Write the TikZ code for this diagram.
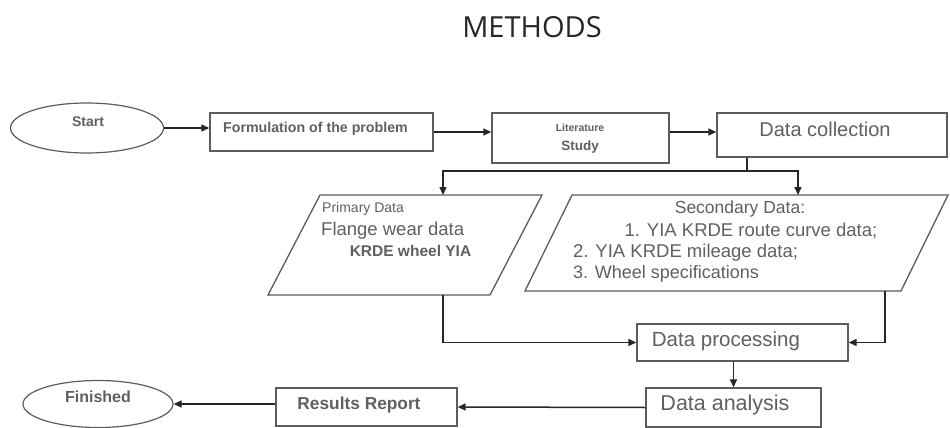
\documentclass[tikz,border=0pt]{standalone}
\usepackage{fontspec}
\setmainfont{Liberation Sans}
\newfontfamily\titlefont{Open Sans}
\usetikzlibrary{arrows.meta,shapes.geometric,calc}
\definecolor{linegray}{HTML}{5C5C5C}
\definecolor{txtgray}{HTML}{606060}
\begin{document}
\begin{tikzpicture}[x=1pt,y=-1pt,
  box/.style={draw=linegray,line width=1.4pt,rectangle,inner sep=0pt},
  oval/.style={draw=linegray,line width=1.2pt,ellipse,inner sep=0pt},
  ghost/.style={draw=none,rectangle,inner sep=0pt,outer sep=0pt},
  slant/.style={draw=linegray,line width=1.3pt,line join=miter},
  lbl/.style={text=txtgray,inner sep=0pt,font=\fontsize{#1}{#1}\selectfont},
  lblb/.style={text=txtgray,inner sep=0pt,font=\fontsize{#1}{#1}\selectfont\bfseries},
  arr/.style={draw=black!85,line width=1.5pt,-{Triangle[length=8pt,width=7pt]}},
  ln/.style={draw=black!85,line width=1.5pt}]
\useasboundingbox (0,0) rectangle (950,428);
\fill[white] (0,0) rectangle (950,428);

% title
\node[font=\titlefont\fontsize{29}{29}\selectfont, text=black!85, inner sep=0pt] (title) at (532,27) {METHODS};

% top row
\node[oval,minimum width=153pt,minimum height=50pt] (start) at (87,128) {};
\node[lblb=14] (tstart) at (88,122) {Start};

\node[box,minimum width=223pt,minimum height=38pt] (form) at (321.5,132) {};
\node[lblb=14.2,anchor=west] (tform) at (223,129) {Formulation of the problem};

\node[box,minimum width=177pt,minimum height=50pt] (lit) at (580.5,138) {};
\node[lblb=10.5] (tlit1) at (580,128) {Literature};
\node[lblb=13.5] (tlit2) at (580,147) {Study};

\node[box,minimum width=230pt,minimum height=44pt] (dc) at (832,135) {};
\node[lbl=20] (tdc) at (825,129) {Data collection};

% parallelograms
\node[ghost,minimum width=274pt,minimum height=100pt] (prim) at (405,245) {};
\draw[slant] (prim.south west) -- ($(prim.north west)+(52,0)$) -- (prim.north east) -- ($(prim.south east)-(52,0)$) -- cycle;
\node[lbl=14,anchor=west] (tp1) at (322,209) {Primary Data};
\node[lbl=18.5,anchor=west] (tp2) at (321,231) {Flange wear data};
\node[lblb=15.5] (tp3) at (410.5,251) {KRDE wheel YIA};

\node[ghost,minimum width=423pt,minimum height=96pt] (sec) at (736.5,243) {};
\draw[slant] (sec.south west) -- ($(sec.north west)+(47,0)$) -- (sec.north east) -- ($(sec.south east)-(47,0)$) -- cycle;
\node[lbl=17.5] (ts1) at (740,209) {Secondary Data:};
\node[lbl=18.5] (ts2) at (751,231) {1. YIA KRDE route curve data;};
\node[lbl=18.5,anchor=west] (ts3) at (573,253) {2. YIA KRDE mileage data;};
\node[lbl=18,anchor=west] (ts4) at (573,274) {3. Wheel specifications};

% lower boxes
\node[box,minimum width=211pt,minimum height=37pt] (proc) at (742.5,342.5) {};
\node[lbl=20.5] (tproc) at (726,341) {Data processing};

\node[box,minimum width=175pt,minimum height=39pt] (ana) at (733.5,407.5) {};
\node[lbl=21.5] (tana) at (725,405) {Data analysis};

\node[box,minimum width=181pt,minimum height=38pt] (res) at (366.5,407) {};
\node[lblb=17.3] (tres) at (359,405) {Results Report};

\node[oval,minimum width=150pt,minimum height=47pt] (fin) at (98,404) {};
\node[lblb=16] (tfin) at (98,397) {Finished};

% connectors
\draw[arr] (start.east) -- (start.east -| form.west);
\draw[arr] (form.east) -- (form.east -| lit.west);
\draw[arr] (lit.east |- form.east) -- (dc.west |- form.east);

\coordinate (split) at (747,171);
\coordinate (pcol) at (443,171);
\coordinate (scol) at (798,171);
\draw[ln] (split |- dc.south) -- (split);
\draw[arr] (split) -- (pcol) -- (pcol |- prim.north);
\draw[arr] (split) -- (scol) -- (scol |- sec.north);

\draw[arr] (pcol |- prim.south) |- (proc.west);
\coordinate (sdrop) at (885,171);
\draw[arr] (sdrop |- sec.south) |- (proc.east);

\draw[arr] (ana.north |- proc.south) -- (ana.north);
\draw[arr] (ana.west) -- (res.east);
\draw[arr] (res.west |- fin.east) -- (fin.east);
\end{tikzpicture}
\end{document}
